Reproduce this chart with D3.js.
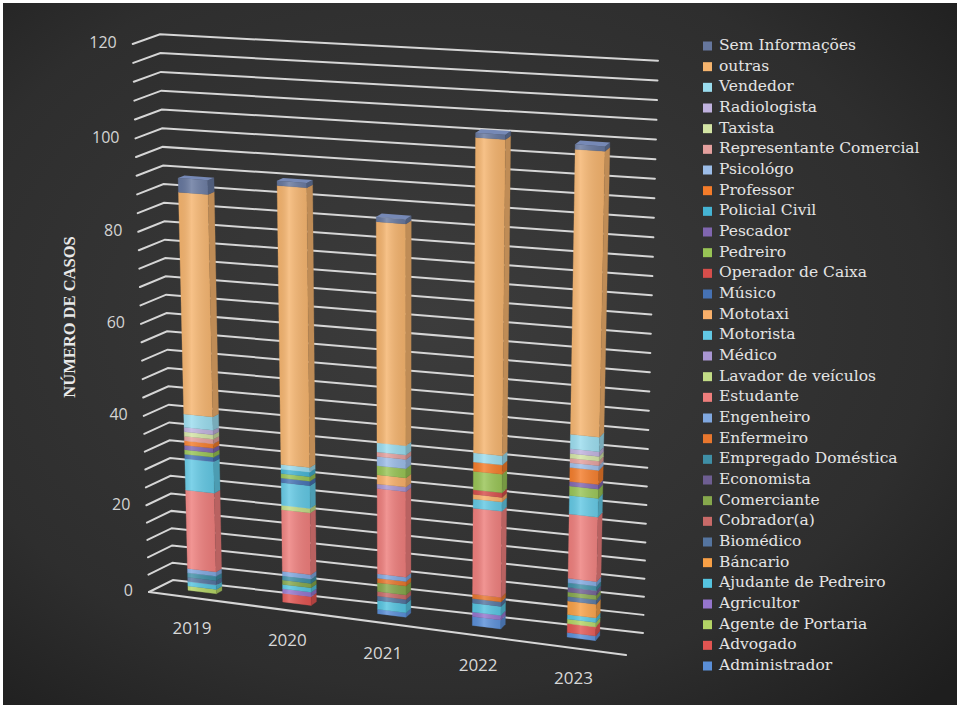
<!DOCTYPE html>
<html><head><meta charset="utf-8">
<script src="https://cdnjs.cloudflare.com/ajax/libs/d3/7.8.5/d3.min.js"></script>
<style>body{margin:0;background:#ffffff}svg{display:block}</style>
</head><body>
<svg id="c" width="960" height="708"></svg>
<script>
// ---------------- DATA ----------------
const years = ["2019","2020","2021","2022","2023"];
const seriesNames = ["Administrador","Advogado","Agente de Portaria","Agricultor","Ajudante de Pedreiro","Báncario","Biomédico","Cobrador(a)","Comerciante","Economista","Empregado Doméstica","Enfermeiro","Engenheiro","Estudante","Lavador de veículos","Médico","Motorista","Mototaxi","Músico","Operador de Caixa","Pedreiro","Pescador","Policial Civil","Professor","Psicológo","Representante Comercial","Taxista","Radiologista","Vendedor","outras","Sem Informações"];
const seriesColors = ["#5a8fd8","#e25552","#b3d465","#9575cd","#55c4e0","#f8a046","#5575a0","#c86a68","#86a84c","#6e5e92","#3f8fa6","#e8772e","#80a8e0","#ee7e7c","#c2dc86","#a996d2","#62c8e4","#f9b06a","#4672b4","#d64e4b","#98c455","#8066b0","#45b4d4","#f47c2a","#9cbde8","#e4a09e","#d3e4a4","#c0b2de","#9adcee","#f5b46e","#66779e"];

const administrador = [0,0,1,2,1];
const advogado      = [0,2,0,0,2];
const agentePortaria= [1,0,0,0,1];
const agricultor    = [0,1,0,1,0];
const ajudante      = [1,1,2,2,1];
const bancario      = [0,0,0,0,3];
const biomedico     = [1,0,1,1,1];
const cobrador      = [0,0,1,0,0];
const comerciante   = [0,1,2,0,1];
const economista    = [0,0,0,0,1];
const empregadoDom  = [1,1,0,0,1];
const enfermeiro    = [0,0,1,1,0];
const engenheiro    = [1,1,1,0,1];
const estudante     = [18,14,19,19,14];
const lavador       = [0,1,0,0,0];
const medico        = [0,0,1,0,0];
const motorista     = [7,5,0,2,4];
const mototaxi      = [0,0,2,1,0];
const musico        = [1,1,0,0,0];
const operadorCaixa = [0,0,0,1,0];
const pedreiro      = [1,1,2,4,2];
const pescador      = [1,0,0,0,1];
const policialCivil = [0,1,0,0,0];
const professor     = [1,0,0,2,3];
const psicologo     = [0,0,2,0,1];
const representante = [1,0,1,0,1];
const taxista       = [1,0,0,0,1];
const radiologista  = [1,0,0,0,1];
const vendedor      = [3,1,2,2,3];
const outras        = [48,60,47,66,59];
const semInfo       = [3,1,1,1,1];

const yTicks = [0,20,40,60,80,100,120];

const seriesValues = [administrador,advogado,agentePortaria,agricultor,ajudante,bancario,biomedico,cobrador,comerciante,economista,empregadoDom,enfermeiro,engenheiro,estudante,lavador,medico,motorista,mototaxi,musico,operadorCaixa,pedreiro,pescador,policialCivil,professor,psicologo,representante,taxista,radiologista,vendedor,outras,semInfo];

// ---------------- SETUP ----------------
const svg = d3.select("#c");
const defs = svg.append("defs");
const bg = defs.append("radialGradient").attr("id","bg").attr("cx","45%").attr("cy","45%").attr("r","75%");
bg.append("stop").attr("offset","0%").attr("stop-color","#3c3c3c");
bg.append("stop").attr("offset","70%").attr("stop-color","#2e2e2e");
bg.append("stop").attr("offset","100%").attr("stop-color","#1e1e1e");
const sh = defs.append("linearGradient").attr("id","shade").attr("x1","0").attr("x2","1").attr("y1","0").attr("y2","0");
sh.append("stop").attr("offset","0%").attr("stop-color","#000").attr("stop-opacity",0.05);
sh.append("stop").attr("offset","35%").attr("stop-color","#fff").attr("stop-opacity",0.18);
sh.append("stop").attr("offset","100%").attr("stop-color","#000").attr("stop-opacity",0.08);

svg.append("rect").attr("x",3).attr("y",3).attr("width",954).attr("height",702).attr("fill","url(#bg)");

// 3D box corners (screen space) of the plot area
const C = {FLB:[149,592], FRB:[626,655], BLB:[173,580], BRB:[643,633],
           FLT:[132.7,44], FRT:[638,77], BLT:[160,34.3], BRT:[658,60.7]};
const lerp=(a,b,t)=>[a[0]+(b[0]-a[0])*t, a[1]+(b[1]-a[1])*t];
function proj(s,t,d){
  const fb=lerp(C.FLB,C.FRB,s), ft=lerp(C.FLT,C.FRT,s), bb=lerp(C.BLB,C.BRB,s), bt=lerp(C.BLT,C.BRT,s);
  return lerp(lerp(fb,ft,t), lerp(bb,bt,t), d);
}
const yScale = d3.scaleLinear().domain(yTicks).range([0,0.1583,0.3213,0.4893,0.6573,0.8278,1]);
const xScale = d3.scalePoint().domain(years).range([-0.01,0.99]).padding(0.5);
const halfW = 0.03, d0 = 0.44, d1 = 0.68;
const line = d3.line();

// gridlines every 4
const grid = svg.append("g").attr("stroke","#d6d6d6").attr("stroke-width",2).attr("fill","none").attr("stroke-linecap","round");
d3.range(0,121,4).forEach(v=>{
  const t=yScale(v);
  grid.append("path").attr("d", line([proj(0,t,0), proj(0,t,1), proj(1,t,1)]));
});
grid.append("path").attr("d", line([proj(0,0,0), proj(1,0,0)]));

// y tick labels
svg.append("g").selectAll("text").data(yTicks).join("text")
  .attr("x", v=>proj(0,yScale(v),0)[0]-16)
  .attr("y", v=>proj(0,yScale(v),0)[1])
  .attr("text-anchor","end").attr("dominant-baseline","middle")
  .attr("font-family","Open Sans, Liberation Sans, sans-serif").attr("font-size",16)
  .attr("fill","#d4d4d4").text(v=>v);

// axis title
svg.append("text").attr("transform","translate(75,317) rotate(-90)")
  .attr("text-anchor","middle").attr("font-family","Liberation Serif, DejaVu Serif, serif")
  .attr("font-weight","bold").attr("font-size",16.5).attr("fill","#e8e8e8").text("NÚMERO DE CASOS");

// category labels
svg.append("g").selectAll("text").data(years).join("text")
  .attr("x", y=>proj(xScale(y),0,0)[0])
  .attr("y", y=>proj(xScale(y),0,0)[1]+36)
  .attr("text-anchor","middle").attr("font-family","Open Sans, Liberation Sans, sans-serif")
  .attr("font-size",17).attr("fill","#d8d8d8").text(y=>y);

// bars
const bars = svg.append("g");
years.forEach((yr,i)=>{
  const s0 = xScale(yr)-halfW, s1 = xScale(yr)+halfW;
  const g = bars.append("g");
  let cum = 0, lastTop = null, lastColor = null;
  seriesValues.forEach((vals,k)=>{
    const v = vals[i]; if(!v) return;
    const t0 = yScale(cum), t1 = yScale(cum+v); cum += v;
    const col = d3.color(seriesColors[k]);
    g.append("path").attr("d", line([proj(s0,t0,d0),proj(s1,t0,d0),proj(s1,t1,d0),proj(s0,t1,d0)])+"Z")
      .attr("fill", col.formatHex()).attr("stroke",col.formatHex()).attr("stroke-width",0.3);
    g.append("path").attr("d", line([proj(s1,t0,d0),proj(s1,t0,d1),proj(s1,t1,d1),proj(s1,t1,d0)])+"Z")
      .attr("fill", col.darker(0.7).formatHex()).attr("stroke",col.darker(0.7).formatHex()).attr("stroke-width",0.3);
    lastTop = t1; lastColor = col;
  });
  g.append("path").attr("d", line([proj(s0,0,d0),proj(s1,0,d0),proj(s1,lastTop,d0),proj(s0,lastTop,d0)])+"Z")
    .attr("fill","url(#shade)");
  g.append("path").attr("d", line([proj(s0,lastTop,d0),proj(s1,lastTop,d0),proj(s1,lastTop,d1),proj(s0,lastTop,d1)])+"Z")
    .attr("fill", lastColor.brighter(0.4).formatHex());
});

// legend (reverse order, top = last series)
const legend = svg.append("g");
const order = d3.range(seriesNames.length).reverse();
const ly = d3.scaleLinear().domain([0, order.length-1]).range([46, 666]);
order.forEach((k,j)=>{
  const y = ly(j);
  legend.append("rect").attr("x",703).attr("y",y-4.5).attr("width",9).attr("height",9)
    .attr("fill",seriesColors[k]);
  legend.append("text").attr("x",719).attr("y",y).attr("dominant-baseline","middle")
    .attr("font-family","DejaVu Serif, serif").attr("font-size",15.5).attr("fill","#e4e4e4")
    .text(seriesNames[k]);
});
</script>
</body></html>
